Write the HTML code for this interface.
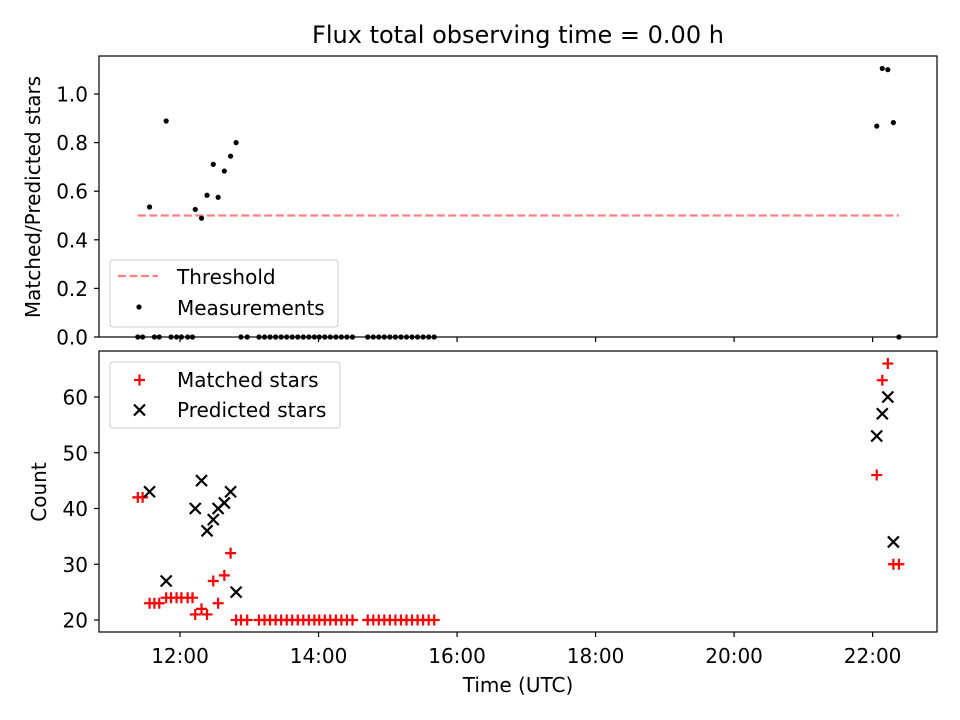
<!DOCTYPE html>
<html><head><meta charset="utf-8">
<style>
html,body{margin:0;padding:0;background:#fff;}
svg{display:block;font-family:"DejaVu Sans","Liberation Sans",sans-serif;}
</style></head>
<body>
<svg id="chart" width="960" height="720" viewBox="0 0 960 720" xmlns="http://www.w3.org/2000/svg">
<rect width="960" height="720" fill="#fff"/>
<text x="518" y="43" font-size="24" text-anchor="middle" fill="#000">Flux total observing time = 0.00 h</text>
<g id="top"></g>
<g id="bottom"></g>
</svg>
<script>
// observation times (hours UTC)
const times = [11.39,11.46,11.56,11.63,11.70,11.80,11.87,11.95,12.02,12.11,12.18,12.22,12.31,12.39,12.48,12.55,12.64,12.73,12.81,12.88,12.97,13.14,13.22,13.30,13.38,13.46,13.54,13.62,13.70,13.78,13.86,13.94,14.01,14.09,14.17,14.25,14.33,14.41,14.49,14.71,14.79,14.87,14.95,15.03,15.11,15.19,15.27,15.35,15.43,15.51,15.59,15.67,22.06,22.14,22.22,22.30,22.38];
const matched = [42,42,23,23,23,24,24,24,24,24,24,21,22,21,27,23,28,32,20,20,20,20,20,20,20,20,20,20,20,20,20,20,20,20,20,20,20,20,20,20,20,20,20,20,20,20,20,20,20,20,20,20,46,63,66,30,30];
const predicted = [null,null,43,null,null,27,null,null,null,null,null,40,45,36,38,40,41,43,25,null,null,null,null,null,null,null,null,null,null,null,null,null,null,null,null,null,null,null,null,null,null,null,null,null,null,null,null,null,null,null,null,null,53,57,60,34,null];
const threshold = [0.5];
const xTickLabels = ["12:00","14:00","16:00","18:00","20:00","22:00"];
const xTickValues = [12,14,16,18,20,22];
const topTicks = [0.0,0.2,0.4,0.6,0.8,1.0];
const bottomTicks = [20,30,40,50,60];

const NS="http://www.w3.org/2000/svg";
const L=99,R=937;
const xMin=10.83,xMax=22.93;
const X=h=>L+(h-xMin)/(xMax-xMin)*(R-L);
const T={top:56,bot:337,min:0,max:1.1564};
const B={top:351,bot:632,min:17.85,max:68.25};
const YT=v=>T.bot-(v-T.min)/(T.max-T.min)*(T.bot-T.top);
const YB=v=>B.bot-(v-B.min)/(B.max-B.min)*(B.bot-B.top);
const FS=20;
function mk(tag,attrs,parent,text){const e=document.createElementNS(NS,tag);for(const k in attrs)e.setAttribute(k,attrs[k]);if(text!==undefined)e.textContent=text;parent.appendChild(e);return e;}

const gT=document.getElementById('top'), gB=document.getElementById('bottom');

const tl=mk('line',{x1:X(times[0]),x2:X(times[times.length-1]),y1:YT(threshold[0]),y2:YT(threshold[0]),stroke:'#ff8080','stroke-width':2.2,'stroke-dasharray':'8,3.5'},gT);



times.forEach((t,i)=>{
  const r = predicted[i] ? matched[i]/predicted[i] : 0;
  const c=mk('circle',{cx:X(t),cy:YT(r),r:2.6,fill:'#000'},gT);
  
  
});

times.forEach((t,i)=>{
  const x=X(t), y=YB(matched[i]);
  const p=mk('path',{d:`M${x-5.5},${y}H${x+5.5}M${x},${y-5.5}V${y+5.5}`,stroke:'#ff0000','stroke-width':2.2,fill:'none'},gB);
  
  
  if(predicted[i]!==null){
    const yy=YB(predicted[i]), s=5.5;
    const q=mk('path',{d:`M${x-s},${yy-s}L${x+s},${yy+s}M${x-s},${yy+s}L${x+s},${yy-s}`,stroke:'#000','stroke-width':2.2,fill:'none'},gB);
    
    
  }
});

[[gT,T],[gB,B]].forEach(([g,A],k)=>{
  const f=mk('rect',{x:L,y:A.top,width:R-L,height:A.bot-A.top,fill:'none',stroke:'#000','stroke-width':1.2},g);
  
  
  xTickValues.forEach((v,i)=>{
    const t=mk('line',{x1:X(v),x2:X(v),y1:A.bot,y2:A.bot+5,stroke:'#000','stroke-width':1.2},g);
    
    
    if(k){
      const lb=mk('text',{x:X(v),y:A.bot+31,'font-size':FS,'text-anchor':'middle'},g,xTickLabels[i]);
      
      
    }
  });
});
topTicks.forEach(v=>{
  const t=mk('line',{x1:L-5,x2:L,y1:YT(v),y2:YT(v),stroke:'#000','stroke-width':1.2},gT);
  
  
  const lb=mk('text',{x:L-11,y:YT(v)+7.5,'font-size':FS,'text-anchor':'end'},gT,v.toFixed(1));
  
  
});
bottomTicks.forEach(v=>{
  const t=mk('line',{x1:L-5,x2:L,y1:YB(v),y2:YB(v),stroke:'#000','stroke-width':1.2},gB);
  
  
  const lb=mk('text',{x:L-11,y:YB(v)+7.5,'font-size':FS,'text-anchor':'end'},gB,String(v));
  
  
});
const yt=mk('text',{x:0,y:0,'font-size':FS,'text-anchor':'middle',transform:'translate(40,197) rotate(-90)'},gT,'Matched/Predicted stars');


const yb=mk('text',{x:0,y:0,'font-size':FS,'text-anchor':'middle',transform:'translate(46,492) rotate(-90)'},gB,'Count');


const xt=mk('text',{x:518,y:692,'font-size':FS,'text-anchor':'middle'},gB,'Time (UTC)');



const lg1=mk('g',{},gT);


mk('rect',{x:110,y:260,width:228,height:67,rx:3,fill:'#fff','fill-opacity':0.8,stroke:'#ccc'},lg1);
mk('line',{x1:118,x2:158,y1:276,y2:276,stroke:'#ff8080','stroke-width':2.2,'stroke-dasharray':'8,3.5'},lg1);
mk('text',{x:177,y:284,'font-size':FS},lg1,'Threshold');
mk('circle',{cx:139,cy:307,r:2.6,fill:'#000'},lg1);
mk('text',{x:177,y:315,'font-size':FS},lg1,'Measurements');
const lg2=mk('g',{},gB);


mk('rect',{x:110,y:362,width:230,height:66,rx:3,fill:'#fff','fill-opacity':0.8,stroke:'#ccc'},lg2);
mk('path',{d:'M134,380H145M139.5,374.5V385.5',stroke:'#ff0000','stroke-width':2.2},lg2);
mk('text',{x:177,y:387,'font-size':FS},lg2,'Matched stars');
mk('path',{d:'M134,404.5L145,415.5M134,415.5L145,404.5',stroke:'#000','stroke-width':2.2},lg2);
mk('text',{x:177,y:417,'font-size':FS},lg2,'Predicted stars');
</script>
</body></html>
